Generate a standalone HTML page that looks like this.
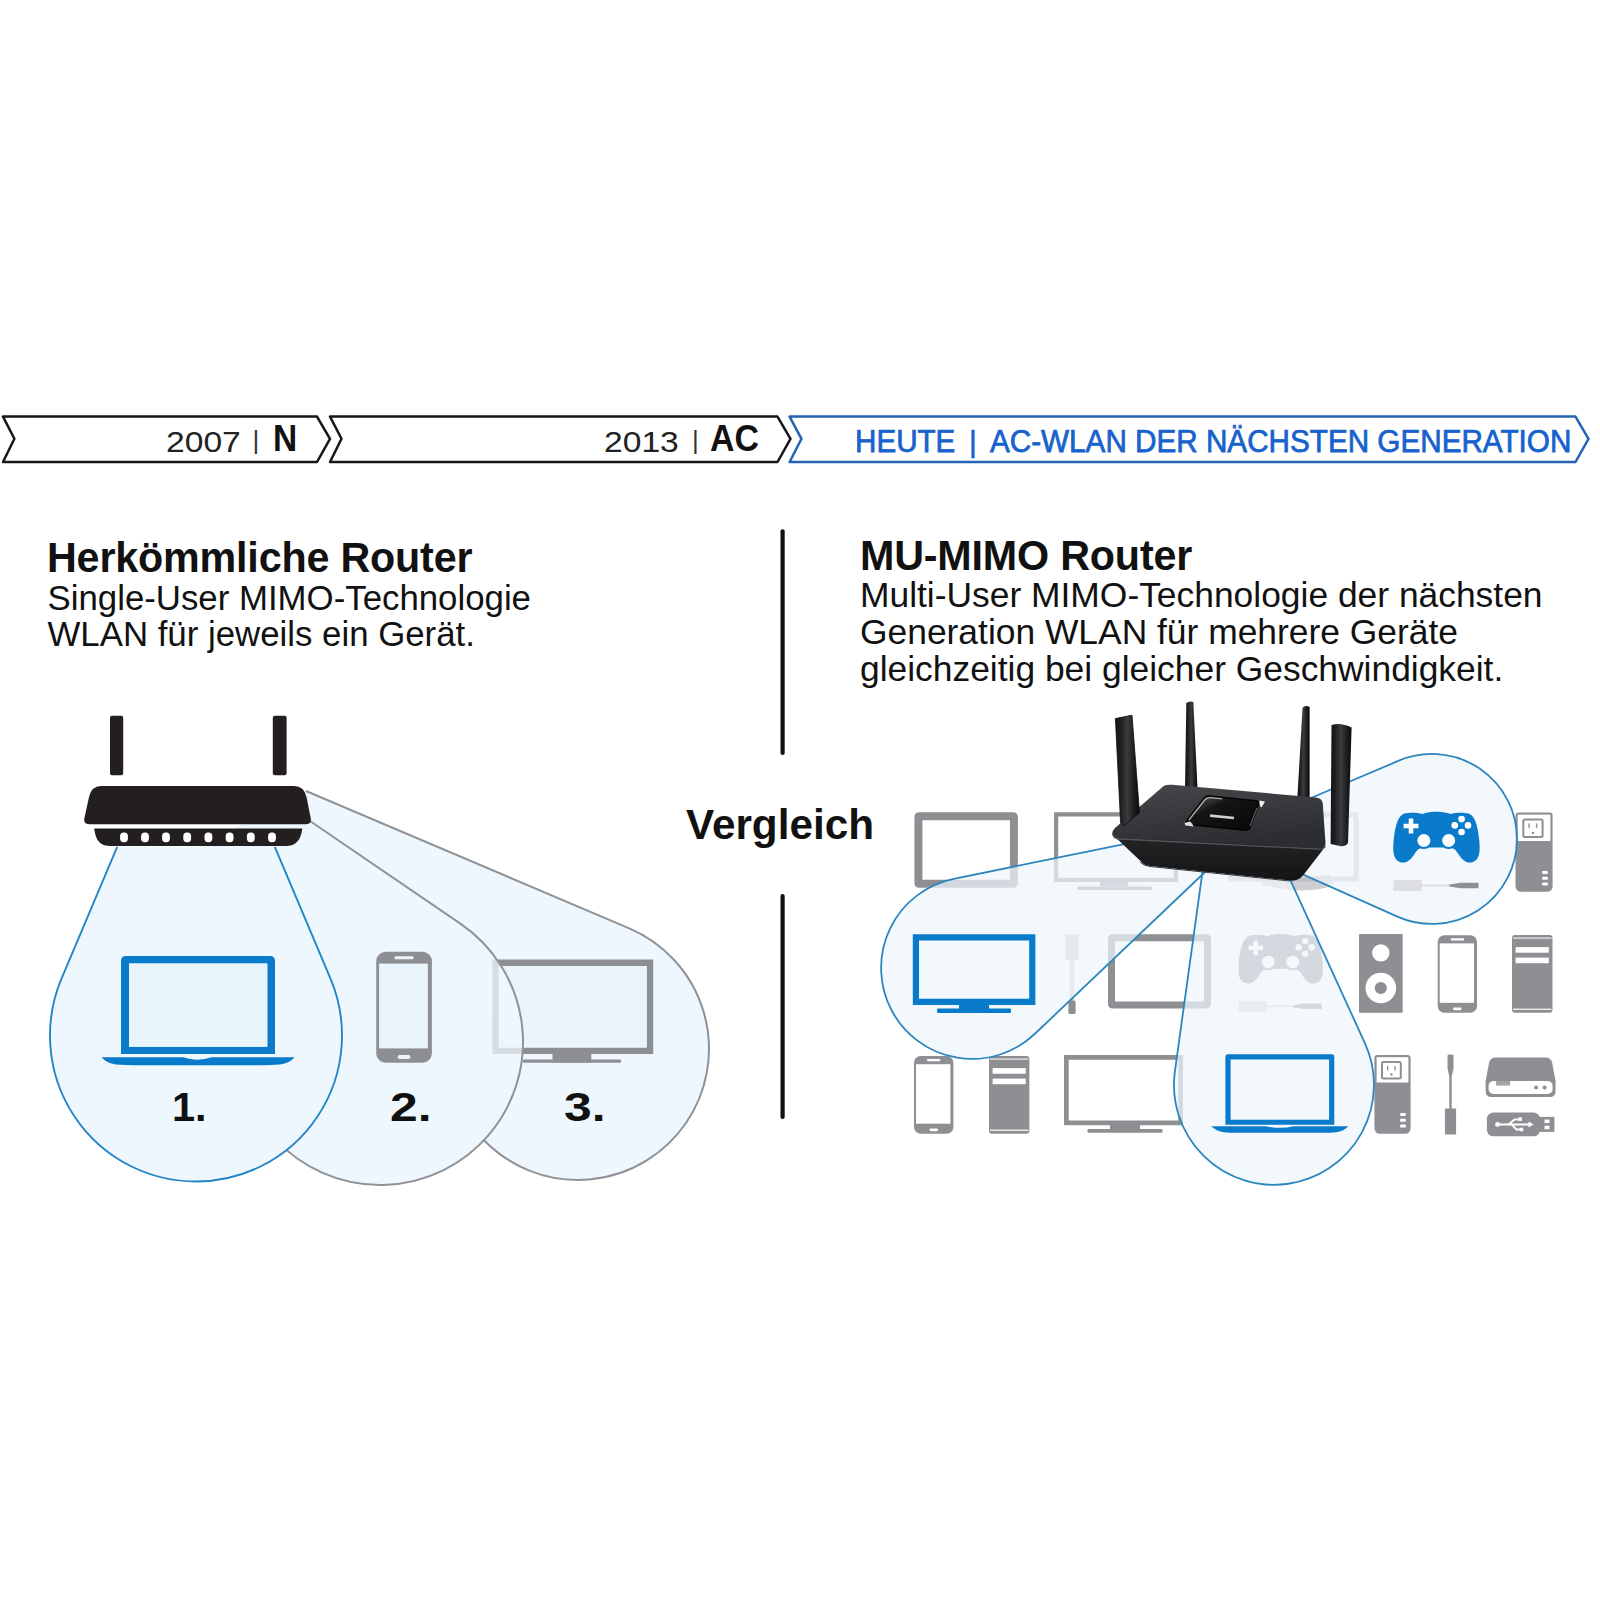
<!DOCTYPE html>
<html><head><meta charset="utf-8">
<style>
html,body{margin:0;padding:0;background:#fff;}
body{width:1600px;height:1600px;position:relative;overflow:hidden;font-family:"Liberation Sans",sans-serif;color:#111;}
.t{position:absolute;white-space:nowrap;line-height:1;}
svg{position:absolute;left:0;top:0;}
</style></head><body>
<svg width="1600" height="1600" viewBox="0 0 1600 1600">
<path d="M3,416.6 L317,416.6 L330,438.8 L317,462 L3,462 L14.4,438.8 Z" fill="#fff" stroke="#161616" stroke-width="2.5" stroke-linejoin="round"/>
<path d="M330,416.6 L777.5,416.6 L790.5,438.8 L777.5,462 L330,462 L341.5,438.8 Z" fill="#fff" stroke="#161616" stroke-width="2.5" stroke-linejoin="round"/>
<path d="M789.6,416.6 L1575.5,416.6 L1588.5,438.8 L1575.5,462 L789.6,462 L801.5,438.8 Z" fill="#fff" stroke="#2464b4" stroke-width="2.5" stroke-linejoin="round"/>
<rect x="780.5" y="529.3" width="4.2" height="225.8" rx="2" fill="#111"/>
<rect x="780.5" y="894" width="4.2" height="225" rx="2" fill="#111"/>
<path d="M306.0,791.0 L629.3,928.4 A131,131 0 1,1 447.0,1049.0 L200,846 Z" fill="#eef7fd"/>
<path d="M306.0,791.0 L629.3,928.4 A131,131 0 1,1 484.0,1140.2" fill="none" stroke="#8f9296" stroke-width="2"/>
<rect x="498.5" y="966" width="148.5" height="81.5" fill="#e9f4fc"/><path d="M492.3,959.6 H653.2 V1054 H492.3 Z M498.6,965.9 V1047.7 H646.9000000000001 V965.9 Z" fill="#8e8f93" fill-rule="evenodd" /><rect x="552.5" y="1053.5" width="38.799999999999955" height="9.0" fill="#8e8f93" /><rect x="523" y="1059.5" width="98.10000000000002" height="3.2000000000000455" rx="1.2" fill="#8e8f93" />
<path d="M310.0,821.0 L460.7,923.9 A143,143 0 1,1 278.9,940.9 L200,846 Z" fill="#eef7fd"/>
<clipPath id="c2"><circle cx="380" cy="1042" r="143"/></clipPath><g clip-path="url(#c2)" opacity="0.24"><rect x="498.5" y="966" width="148.5" height="81.5" fill="#e9f4fc"/><path d="M492.3,959.6 H653.2 V1054 H492.3 Z M498.6,965.9 V1047.7 H646.9000000000001 V965.9 Z" fill="#8e8f93" fill-rule="evenodd" /><rect x="552.5" y="1053.5" width="38.799999999999955" height="9.0" fill="#8e8f93" /><rect x="523" y="1059.5" width="98.10000000000002" height="3.2000000000000455" rx="1.2" fill="#8e8f93" /></g>
<path d="M310.0,821.0 L460.7,923.9 A143,143 0 1,1 294.3,927.5" fill="none" stroke="#8f9296" stroke-width="2"/>
<rect x="376.2" y="951.8" width="55.7" height="110.9" rx="9.5" fill="#8e8f93" /><rect x="379.1" y="963.6" width="48.7" height="84.8" fill="#e9f4fc" /><rect x="394.6" y="956.2" width="18.9" height="3.0" rx="1" fill="#e9f4fc" /><rect x="397.9" y="1054.9" width="12.3" height="4.0" rx="1.5" fill="#e9f4fc" />
<path d="M117.2,846.8 L61.5,978.7 A146,146 0 1,0 330.5,978.7 L274.8,846.8 Z" fill="#eef7fd"/>
<path d="M117.2,846.8 L61.5,978.7 A146,146 0 1,0 330.5,978.7 L274.8,846.8" fill="none" stroke="#2286c6" stroke-width="1.9"/>
<path d="M121,961 Q121,956 126,956 H270 Q275,956 275,961 V1054 H121 Z M129,963.5 V1046.8 H267.3 V963.5 Z" fill="#0a7acb" fill-rule="evenodd"/>
<rect x="129" y="963.5" width="138.3" height="83.3" fill="#e8f4fc"/>
<path d="M101.6,1057.3 H183 Q197,1062 211.8,1057.3 H294.5 Q290,1063 280,1064.6 Q270,1065.3 262,1065.3 H134 Q126,1065.3 116,1064.6 Q106,1063 101.6,1057.3 Z" fill="#0a7acb"/>
<rect x="110" y="715.8" width="13.2" height="59.5" rx="2" fill="#231f20"/>
<rect x="272.8" y="715.8" width="13.8" height="59.5" rx="2" fill="#231f20"/>
<path d="M101,786 H294 Q304,786 306.5,797 L310.8,818.5 Q311.5,824.3 305.5,824.3 H90 Q83.5,824.3 84.3,818.5 L89,797 Q91.5,786 101,786 Z" fill="#231f20"/>
<path d="M94.1,828.6 H302.4 L301.5,833 Q298.5,846 286,846 H110 Q97.5,846 95,833 Z" fill="#231f20"/>
<rect x="120.1" y="832.6" width="7.8" height="9.6" rx="3.6" fill="#fff"/>
<rect x="141.1" y="832.6" width="7.8" height="9.6" rx="3.6" fill="#fff"/>
<rect x="162.1" y="832.6" width="7.8" height="9.6" rx="3.6" fill="#fff"/>
<rect x="183.3" y="832.6" width="7.8" height="9.6" rx="3.6" fill="#fff"/>
<rect x="204.5" y="832.6" width="7.8" height="9.6" rx="3.6" fill="#fff"/>
<rect x="225.7" y="832.6" width="7.8" height="9.6" rx="3.6" fill="#fff"/>
<rect x="246.9" y="832.6" width="7.8" height="9.6" rx="3.6" fill="#fff"/>
<rect x="268.1" y="832.6" width="7.8" height="9.6" rx="3.6" fill="#fff"/>
<path d="M919.4,812.3 H1012.9 Q1017.9,812.3 1017.9,817.3 V882.7 Q1017.9,887.7 1012.9,887.7 H919.4 Q914.4,887.7 914.4,882.7 V817.3 Q914.4,812.3 919.4,812.3 Z M922.4,820.3 V879.7 H1009.9 V820.3 Z" fill="#8e8f93" fill-rule="evenodd" />
<path d="M1054,812.3 H1178 V882 H1054 Z M1058.2,816.5 V877.8 H1173.8 V816.5 Z" fill="#8e8f93" fill-rule="evenodd" /><rect x="1100" y="881.5" width="28" height="5.0" fill="#8e8f93" /><rect x="1077.5" y="886.4" width="74.5" height="3.6000000000000227" rx="1.2" fill="#8e8f93" />
<path d="M1228,812.3 H1358.7 V881.4 H1228 Z M1233,817.3 V876.4 H1353.7 V817.3 Z" fill="#c4c6c9" fill-rule="evenodd" />
<path d="M1518.5,812.4 H1549.6 Q1552.6,812.4 1552.6,815.4 V885.7 Q1552.6,891.7 1546.6,891.7 H1521.5 Q1515.5,891.7 1515.5,885.7 V815.4 Q1515.5,812.4 1518.5,812.4 Z" fill="#8e8f93"/><rect x="1517.7" y="814.6" width="32.7" height="26.4" fill="#fff"/><rect x="1523.3" y="819.4" width="19.3" height="17.6" rx="1.5" fill="none" stroke="#8e8f93" stroke-width="2"/><rect x="1528.4" y="823.4" width="1.4" height="4.5" fill="#8e8f93"/><rect x="1535.9" y="823.4" width="1.4" height="4.5" fill="#8e8f93"/><circle cx="1532.9" cy="833.0" r="1.2" fill="#8e8f93"/><rect x="1542.1" y="870.9" width="5.8" height="3" rx="1.2" fill="#fff"/><rect x="1542.1" y="876.7" width="5.8" height="3" rx="1.2" fill="#fff"/><rect x="1542.1" y="882.5" width="5.8" height="3" rx="1.2" fill="#fff"/>
<rect x="1065.0" y="934.5" width="14" height="25.5" rx="1.5" fill="#c9cbce"/><rect x="1069.7" y="959.5" width="4.6" height="41.5" fill="#c9cbce"/><rect x="1068.4" y="1000.4" width="7.2" height="13.6" rx="1.5" fill="#8e8f93"/>
<path d="M1113.0,934.3 H1206.0 Q1211.0,934.3 1211.0,939.3 V1003.4 Q1211.0,1008.4 1206.0,1008.4 H1113.0 Q1108.0,1008.4 1108.0,1003.4 V939.3 Q1108.0,934.3 1113.0,934.3 Z M1115.0,941.3 V1001.4 H1204.0 V941.3 Z" fill="#8e8f93" fill-rule="evenodd" />
<g transform="translate(1238.6,934.0) scale(0.9791,0.9743)"><path d="M43,0 C50,0 54,1.2 57,2.2 C62,0.6 70,0.4 75,1.8 C81,3.6 84,13 85.6,27 C86.9,39 86.6,48 79,50.4 C73,52 69,48.5 65.5,43 C62.5,38 60,35.6 55,35.6 L31,35.6 C26,35.6 23.5,38 20.5,43 C17,48.5 13,52 7,50.4 C-0.6,48 -0.9,39 0.4,27 C2,13 5,3.6 11,1.8 C16,0.4 24,0.6 29,2.2 C32,1.2 36,0 43,0 Z" fill="#8e8f93"/><circle cx="30.4" cy="28.7" r="8.6" fill="#8e8f93"/><circle cx="55.2" cy="28.7" r="8.6" fill="#8e8f93"/><path d="M15.3,6.8 h4.6 v5.1 h5.1 v4.6 h-5.1 v5.1 h-4.6 v-5.1 h-5.1 v-4.6 h5.1 Z" fill="#fff"/><circle cx="68.1" cy="7.3" r="3.3" fill="#fff"/><circle cx="61.3" cy="13.6" r="3.3" fill="#fff"/><circle cx="74.5" cy="13.6" r="3.3" fill="#fff"/><circle cx="68.1" cy="20.2" r="3.3" fill="#fff"/><circle cx="30.4" cy="28.7" r="6.5" fill="#fff"/><circle cx="55.2" cy="28.7" r="6.5" fill="#fff"/></g>
<rect x="1238.6" y="1000.7" width="28.6" height="11" rx="1.5" fill="#d3d5d8"/><rect x="1266.6" y="1005.3" width="39.2" height="2" fill="#d3d5d8"/><path d="M1292.8,1005.4 L1303.8,1003.5 H1321.8 V1009.1 H1303.8 L1292.8,1007.2 Z" fill="#8e8f93"/>
<rect x="1359.0" y="934.0" width="43.7" height="78.8" rx="1" fill="#8e8f93"/><circle cx="1380.8" cy="952.9" r="8.7" fill="#fff"/><circle cx="1380.8" cy="988.0" r="15.3" fill="#fff"/><circle cx="1380.8" cy="988.0" r="6.1" fill="#8e8f93"/>
<rect x="1437.7" y="935.2" width="39.3" height="77.6" rx="6.7" fill="#8e8f93" /><rect x="1439.7" y="943.4" width="34.3" height="59.4" fill="#fff" /><rect x="1450.7" y="938.3" width="13.4" height="2.1" rx="1" fill="#fff" /><rect x="1453.0" y="1007.4" width="8.6" height="2.8" rx="1.5" fill="#fff" />
<rect x="1512.0" y="935.0" width="40.5" height="77.8" rx="3" fill="#8e8f93"/><rect x="1513.0" y="937.5" width="38.5" height="1.2" fill="#fff" opacity="0.85"/><rect x="1513.0" y="1008.6" width="38.5" height="1.4" fill="#fff" opacity="0.85"/><rect x="1515.6" y="947.1" width="33.2" height="5.6" fill="#fff"/><rect x="1515.6" y="957.6" width="33.2" height="5.6" fill="#fff"/>
<rect x="914.0" y="1056.0" width="39.4" height="77.8" rx="6.7" fill="#8e8f93" /><rect x="916.0" y="1064.2" width="34.4" height="59.5" fill="#fff" /><rect x="927.0" y="1059.1" width="13.4" height="2.1" rx="1" fill="#fff" /><rect x="929.4" y="1128.4" width="8.7" height="2.8" rx="1.5" fill="#fff" />
<rect x="989.0" y="1056.0" width="40.4" height="77.8" rx="3" fill="#8e8f93"/><rect x="990.0" y="1058.5" width="38.4" height="1.2" fill="#fff" opacity="0.85"/><rect x="990.0" y="1129.6" width="38.4" height="1.4" fill="#fff" opacity="0.85"/><rect x="992.6" y="1068.1" width="33.1" height="5.6" fill="#fff"/><rect x="992.6" y="1078.6" width="33.1" height="5.6" fill="#fff"/>
<path d="M1064,1055 H1183 V1125.3 H1064 Z M1068.7,1059.7 V1120.6 H1178.3 V1059.7 Z" fill="#8e8f93" fill-rule="evenodd" /><rect x="1110" y="1124.8" width="30" height="4.2000000000000455" fill="#8e8f93" /><rect x="1087.5" y="1129" width="75.0" height="3.7999999999999545" rx="1.2" fill="#8e8f93" />
<path d="M1377.4,1055.0 H1407.6 Q1410.6,1055.0 1410.6,1058.0 V1127.8 Q1410.6,1133.8 1404.6,1133.8 H1380.4 Q1374.4,1133.8 1374.4,1127.8 V1058.0 Q1374.4,1055.0 1377.4,1055.0 Z" fill="#8e8f93"/><rect x="1376.6" y="1057.2" width="31.8" height="25.3" fill="#fff"/><rect x="1382.0" y="1062.0" width="18.8" height="16.5" rx="1.5" fill="none" stroke="#8e8f93" stroke-width="2"/><rect x="1386.9" y="1066.0" width="1.4" height="4.5" fill="#8e8f93"/><rect x="1394.4" y="1066.0" width="1.4" height="4.5" fill="#8e8f93"/><circle cx="1391.4" cy="1074.5" r="1.2" fill="#8e8f93"/><rect x="1400.1" y="1113.0" width="5.8" height="3" rx="1.2" fill="#fff"/><rect x="1400.1" y="1118.8" width="5.8" height="3" rx="1.2" fill="#fff"/><rect x="1400.1" y="1124.6" width="5.8" height="3" rx="1.2" fill="#fff"/>
<path d="M1447.5,1055.4 Q1447.5,1054.4 1450.5,1054.4 Q1453.5,1054.4 1453.5,1055.4 V1068.4 L1451.7,1076.4 V1108.4 H1456.1 V1133.4 Q1456.1,1134.4 1455.0,1134.4 H1446.0 Q1444.9,1134.4 1444.9,1133.4 V1108.4 H1449.3 V1076.4 L1447.5,1068.4 Z" fill="#8e8f93"/>
<path d="M1495.6,1057.5 H1545.6 Q1550.6,1057.5 1552.1,1062.5 L1555.6,1081.1 V1090.9 Q1555.6,1096.9 1549.6,1096.9 H1491.6 Q1485.6,1096.9 1485.6,1090.9 V1081.1 L1489.1,1062.5 Q1490.6,1057.5 1495.6,1057.5 Z" fill="#8e8f93"/><rect x="1488.6" y="1081.1" width="64.0" height="12.8" rx="5" fill="#fff"/><rect x="1496.1" y="1080.6" width="14" height="5" fill="#8e8f93" opacity="0.8"/><circle cx="1536.1" cy="1087.6" r="2" fill="#8e8f93"/><circle cx="1544.6" cy="1087.6" r="2" fill="#8e8f93"/>
<rect x="1486.9" y="1112.5" width="53.1" height="23.8" rx="6.5" fill="#8e8f93"/><rect x="1539.0" y="1116.9" width="15.4" height="15.0" fill="#8e8f93"/><rect x="1544.5" y="1119.5" width="5" height="3.6" fill="#fff"/><rect x="1544.5" y="1125.7" width="5" height="3.6" fill="#fff"/><path d="M1497.5,1124.4 H1529.5 M1508.5,1124.4 L1514.5,1119.4 H1519.5 M1511.5,1124.4 L1516.5,1129.4 H1521.5" stroke="#fff" stroke-width="2" fill="none"/><circle cx="1497.5" cy="1124.4" r="2.4" fill="#fff"/><path d="M1528.5,1121.4 L1533.5,1124.4 L1528.5,1127.4 Z" fill="#fff"/><rect x="1518.5" y="1117.4" width="3.5" height="3.5" fill="#fff"/><circle cx="1521.5" cy="1129.4" r="2" fill="#fff"/>
<path d="M1262,877 L1295,880 L1330,874 L1334,885 Q1318,892 1290,890 L1262,885 Z" fill="#b9babd" opacity="0.7"/>
<clipPath id="cb"><rect x="0" y="850" width="1600" height="750"/></clipPath>
<path d="M1264.5,815.5 L1034.7,1034.0 A91.0,91.0 0 1,1 953.8,878.8 Z" fill="#eef5fb" fill-opacity="0.72"/>
<path d="M1222.0,730.5 L1365.0,1043.4 A100.0,100.0 0 1,1 1174.9,1071.3 Z" fill="#eef5fb" fill-opacity="0.72" clip-path="url(#cb)"/>
<path d="M1219.0,837.0 L1398.8,760.7 A85.0,85.0 0 1,1 1397.4,916.6 Z" fill="#eef5fb" fill-opacity="0.72"/>
<path d="M1264.5,815.5 L1034.7,1034.0 A91.0,91.0 0 1,1 953.8,878.8 Z" fill="none" stroke="#2c86bd" stroke-width="1.8"/>
<path d="M1222.0,730.5 L1365.0,1043.4 A100.0,100.0 0 1,1 1174.9,1071.3 Z" fill="none" stroke="#2c86bd" stroke-width="1.8" clip-path="url(#cb)"/>
<path d="M1219.0,837.0 L1398.8,760.7 A85.0,85.0 0 1,1 1397.4,916.6 Z" fill="none" stroke="#2c86bd" stroke-width="1.8"/>
<rect x="1393.4" y="879.9" width="28.6" height="11" rx="1.5" fill="#dcdee1"/><rect x="1421.4" y="884.5" width="41.1" height="2" fill="#dcdee1"/><path d="M1449.5,884.6 L1460.5,882.7 H1478.5 V888.3 H1460.5 L1449.5,886.4 Z" fill="#8e8f93"/>
<path d="M912.8,934.3 H1035.4 V1004.9 H912.8 Z M919.0,940.5 V998.6999999999999 H1029.2 V940.5 Z" fill="#0a7acb" fill-rule="evenodd" /><rect x="959" y="1004.4" width="30" height="5.100000000000023" fill="#0a7acb" /><rect x="937" y="1008.4" width="74" height="4.600000000000023" rx="1.2" fill="#0a7acb" />
<g transform="translate(1393.4,811.8) scale(1.0012,1.0000)"><path d="M43,0 C50,0 54,1.2 57,2.2 C62,0.6 70,0.4 75,1.8 C81,3.6 84,13 85.6,27 C86.9,39 86.6,48 79,50.4 C73,52 69,48.5 65.5,43 C62.5,38 60,35.6 55,35.6 L31,35.6 C26,35.6 23.5,38 20.5,43 C17,48.5 13,52 7,50.4 C-0.6,48 -0.9,39 0.4,27 C2,13 5,3.6 11,1.8 C16,0.4 24,0.6 29,2.2 C32,1.2 36,0 43,0 Z" fill="#0a7acb"/><circle cx="30.4" cy="28.7" r="8.6" fill="#0a7acb"/><circle cx="55.2" cy="28.7" r="8.6" fill="#0a7acb"/><path d="M15.3,6.8 h4.6 v5.1 h5.1 v4.6 h-5.1 v5.1 h-4.6 v-5.1 h-5.1 v-4.6 h5.1 Z" fill="#fff"/><circle cx="68.1" cy="7.3" r="3.3" fill="#fff"/><circle cx="61.3" cy="13.6" r="3.3" fill="#fff"/><circle cx="74.5" cy="13.6" r="3.3" fill="#fff"/><circle cx="68.1" cy="20.2" r="3.3" fill="#fff"/><circle cx="30.4" cy="28.7" r="6.5" fill="#fff"/><circle cx="55.2" cy="28.7" r="6.5" fill="#fff"/></g>
<path d="M1225.4,1057 Q1225.4,1054.3 1228,1054.3 H1331.7 Q1334.3,1054.3 1334.3,1057 V1124.8 H1225.4 Z M1230.6,1059.5 V1119.8 H1329.1 V1059.5 Z" fill="#0a7acb" fill-rule="evenodd"/>
<path d="M1211.3,1126.2 H1266 Q1280,1129.5 1294,1126.2 H1348.4 Q1344,1131 1336,1132.2 Q1330,1132.7 1324,1132.7 H1236 Q1230,1132.7 1224,1132.2 Q1216,1131 1211.3,1126.2 Z" fill="#0a7acb"/>
<defs><linearGradient id="ant" x1="0" y1="0" x2="1" y2="0"><stop offset="0" stop-color="#141415"/><stop offset="0.2" stop-color="#1e1e20"/><stop offset="0.5" stop-color="#3a3b3e"/><stop offset="0.8" stop-color="#1a1a1b"/><stop offset="1" stop-color="#0c0c0d"/></linearGradient><linearGradient id="top" x1="0" y1="0" x2="0.3" y2="1"><stop offset="0" stop-color="#46474a"/><stop offset="1" stop-color="#2c2d30"/></linearGradient><linearGradient id="skirt" x1="0" y1="0" x2="0" y2="1"><stop offset="0" stop-color="#242527"/><stop offset="1" stop-color="#141415"/></linearGradient><linearGradient id="gloss" x1="0" y1="0" x2="1" y2="1"><stop offset="0" stop-color="#6a6b6e"/><stop offset="0.35" stop-color="#151516"/><stop offset="1" stop-color="#060606"/></linearGradient><radialGradient id="shadow" cx="0.5" cy="0.5" r="0.5"><stop offset="0" stop-color="#000" stop-opacity="0.25"/><stop offset="1" stop-color="#000" stop-opacity="0"/></radialGradient></defs>
<path d="M1186.3,703 Q1189.8,700.5 1193.3,702 L1197.6,790 L1185,790 Z" fill="url(#ant)"/>
<path d="M1302.6,707.5 Q1306,705 1309.6,707 L1309.6,797 L1297.4,797 Z" fill="url(#ant)"/>
<path d="M1112.2,834.2 L1141,861.5 Q1144,865.5 1150,866 L1290,880.5 Q1298,881.5 1303,875.6 L1325,847 Z" fill="url(#skirt)"/>
<path d="M1163.4,786.2 Q1166,784.5 1172,784.8 L1316,797.5 Q1322.6,798.2 1322.8,804 L1325.5,843 Q1325.8,848 1320,848 L1118,838 Q1112.5,837.5 1112.2,834.2 Q1112,831 1115,828 Z" fill="url(#top)"/>
<path d="M1113.5,836.5 Q1115,838.6 1120,839 L1319,849.2 Q1324,849.2 1325.5,846" fill="none" stroke="#55565a" stroke-width="1.3"/>
<path d="M1140,862 Q1144,866 1150,866.5 L1290,881" fill="none" stroke="#3a3b3e" stroke-width="1"/>
<path d="M1210,796 L1255.5,800.6 Q1260,801 1258.5,805 L1250,827.5 Q1248.6,830.6 1244.5,830.3 L1189,824.5 Q1184.8,824 1186.5,820.5 L1203.5,799 Q1205.5,795.6 1210,796 Z" fill="url(#gloss)" stroke="#030303" stroke-width="1.4"/>
<path d="M1189,820 L1205,799.5 Q1207,797.4 1211,797.6 L1222,798.8" fill="none" stroke="#d8d8d8" stroke-opacity="0.75" stroke-width="1.3"/>
<path d="M1259.5,800.5 L1265,801.5 L1261.5,807.5 Q1259,806 1259.5,800.5 Z" fill="#f0f0f0"/><path d="M1184.5,823 L1190,821.5 Q1193,824 1193.5,826.5 L1185.5,825.5 Z" fill="#e0e0e0"/>
<path d="M1257,808 L1250,826" stroke="#9a9a9a" stroke-width="0.9" stroke-opacity="0.8"/>
<rect x="1210" y="815.5" width="24" height="2.6" fill="#cfcfcf" transform="rotate(5.5 1222 817)"/>
<path d="M1115.4,718.5 L1132,715.2 L1139.5,812.5 L1124,826 L1120.6,823 Z" fill="url(#ant)" stroke="#0d0d0e" stroke-width="0.8"/>
<path d="M1331.5,725 Q1341,722 1351.6,727.6 L1348,843 Q1345,847 1340,846 L1330.6,844 Z" fill="url(#ant)"/>
</svg>
<div class="t" style="left:166px;top:426.5px;font-size:29.5px;color:#222;transform:scaleX(1.14);transform-origin:0 0;">2007</div>
<div class="t" style="left:252.5px;top:427px;font-size:26px;color:#333;">|</div>
<div class="t" style="left:272.5px;top:421px;font-size:36px;font-weight:bold;transform:scaleX(0.93);transform-origin:0 0;">N</div>
<div class="t" style="left:604px;top:426.5px;font-size:29.5px;color:#222;transform:scaleX(1.14);transform-origin:0 0;">2013</div>
<div class="t" style="left:692px;top:427px;font-size:26px;color:#333;">|</div>
<div class="t" style="left:709.5px;top:421px;font-size:36px;font-weight:bold;transform:scaleX(0.94);transform-origin:0 0;">AC</div>
<div class="t" style="left:855px;top:426px;font-size:31px;color:#1762cc;-webkit-text-stroke:0.75px #1762cc;transform:scaleX(0.955);transform-origin:0 0;">HEUTE</div>
<div class="t" style="left:969px;top:426.5px;font-size:30px;color:#1762cc;-webkit-text-stroke:0.6px #1762cc;">|</div>
<div class="t" style="left:990px;top:426px;font-size:31px;color:#1762cc;-webkit-text-stroke:0.75px #1762cc;transform:scaleX(0.957);transform-origin:0 0;">AC-WLAN DER NÄCHSTEN GENERATION</div>

<div class="t" style="left:47px;top:535.5px;font-size:43px;font-weight:bold;letter-spacing:-0.2px;transform:scaleX(0.96);transform-origin:0 0;">Herkömmliche Router</div>
<div class="t" style="left:47.5px;top:579.5px;font-size:34.8px;line-height:36.6px;">Single-User MIMO-Technologie<br>WLAN für jeweils ein Gerät.</div>

<div class="t" style="left:860px;top:533.5px;font-size:43px;font-weight:bold;letter-spacing:-0.2px;transform:scaleX(0.96);transform-origin:0 0;">MU-MIMO Router</div>
<div class="t" style="left:860px;top:577px;font-size:35.4px;line-height:37px;">Multi-User MIMO-Technologie der nächsten<br>Generation WLAN für mehrere Geräte<br>gleichzeitig bei gleicher Geschwindigkeit.</div>

<div class="t" style="left:686px;top:803.5px;font-size:42.3px;font-weight:bold;">Vergleich</div>
<div class="t" style="left:172px;top:1086px;font-size:41.5px;font-weight:bold;">1.</div>
<div class="t" style="left:389.5px;top:1086px;font-size:41.5px;font-weight:bold;transform:scaleX(1.2);transform-origin:0 0;">2.</div>
<div class="t" style="left:564px;top:1086px;font-size:41.5px;font-weight:bold;transform:scaleX(1.2);transform-origin:0 0;">3.</div>
</body></html>
